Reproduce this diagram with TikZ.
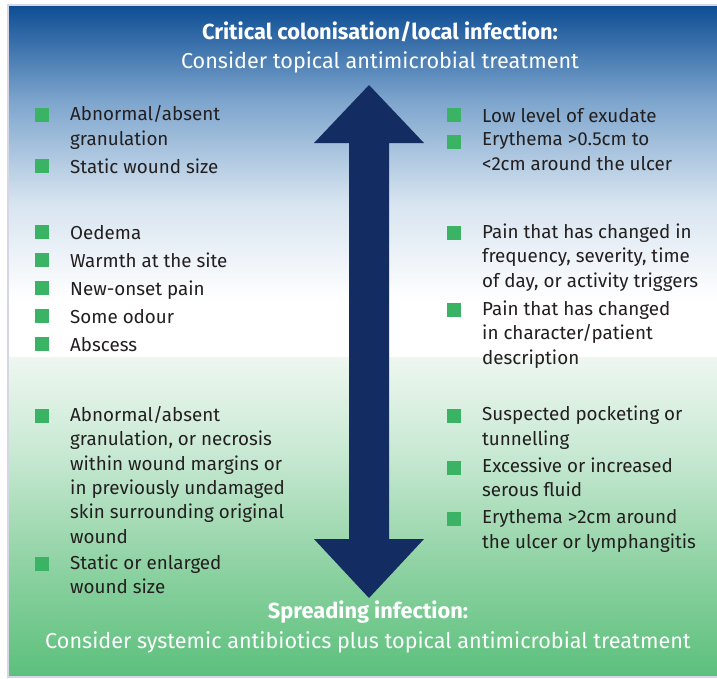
\documentclass[tikz,border=0pt]{standalone}
\usepackage{fontspec}
\setmainfont{Fira Sans}
\usetikzlibrary{calc}

\definecolor{deepblue}{RGB}{14,78,148}
\definecolor{midblue}{RGB}{125,165,205}
\definecolor{paleblue}{RGB}{215,228,240}
\definecolor{palegreen}{RGB}{238,247,240}
\definecolor{softgreen}{RGB}{200,233,211}
\definecolor{midgreen}{RGB}{145,211,165}
\definecolor{deepgreen}{RGB}{92,192,124}
\definecolor{navy}{RGB}{19,44,98}
\definecolor{tick}{RGB}{58,180,100}
\definecolor{frame}{RGB}{214,214,230}
\definecolor{ink}{RGB}{35,31,32}

% upper half fades from blue to white, lower half from white to green
\pgfdeclareverticalshading{upperfade}{100bp}{color(0bp)=(white); color(25bp)=(white); color(33bp)=(white); color(47bp)=(paleblue); color(61.5bp)=(midblue); color(75bp)=(deepblue); color(100bp)=(deepblue)}
\pgfdeclareverticalshading{lowerfade}{100bp}{color(0bp)=(deepgreen); color(25bp)=(deepgreen); color(43bp)=(midgreen); color(60bp)=(softgreen); color(75bp)=(palegreen); color(100bp)=(palegreen)}

\tikzset{
	crit/.style={inner sep=0pt, anchor=north west, align=left, text=ink,
		font=\fontsize{18.8}{24.4}\selectfont, execute at begin node=\strut},
	sq/.style={fill=tick, minimum size=14pt, inner sep=0pt},
	head/.style={text=white, anchor=base, font=\fontsize{21.6}{26}\selectfont}
}
% a criterion with its green square in front of the first line
\newcommand\criterion[3]{
	\node[crit] (#1) at (#2) {#3};
	\node[sq] (#1sq) at ($(#1.north west)+(-28.5,10)$) {};
}

\begin{document}
\begin{tikzpicture}[x=1pt,y=-1pt]
	\useasboundingbox (0,0) rectangle (717,678);
	\fill[white] (0,0) rectangle (717,678);
	\shade[shading=upperfade] (9,6) rectangle (717,357);
	\shade[shading=lowerfade] (9,357) rectangle (717,676);
	\draw[frame, line width=2pt] (7.5,4.5) rectangle (722,677);

	% the two-way arrow
	\fill[navy] (369,85) -- (424,143) -- (389,143) -- (389,539) -- (424,539) -- (369,598)
		-- (314,539) -- (349,539) -- (349,143) -- (314,143) -- cycle;

	\node[head, font=\fontsize{21.8}{26}\selectfont\bfseries] (crit) at (380,39) {Critical colonisation/local infection:};
	\node[head] (critsub) at (380,68) {Consider topical antimicrobial treatment};
	\node[head, font=\fontsize{21.8}{26}\selectfont\bfseries] (spread) at (368,618) {Spreading infection:};
	\node[head] (spreadsub) at (368,648) {Consider systemic antibiotics plus topical antimicrobial treatment};

	% left column
	\criterion{l1}{70,105.4}{Abnormal/absent\\granulation}
	\criterion{l2}{70,155.9}{Static wound size}
	\criterion{l3}{70,222.4}{Oedema}
	\criterion{l4}{70,250.4}{Warmth at the site}
	\criterion{l5}{70,278.4}{New-onset pain}
	\criterion{l6}{70,306.4}{Some odour}
	\criterion{l7}{70,334.4}{Abscess}
	\criterion{l8}{70,405.9}{Abnormal/absent\\granulation, or necrosis\\within wound margins or\\in previously undamaged\\skin surrounding original\\wound}
	\criterion{l9}{70,554.4}{Static or enlarged\\wound size}

	% right column
	\criterion{r1}{482,105.1}{Low level of exudate}
	\criterion{r2}{482,131.7}{Erythema >0.5cm to\\<2cm around the ulcer}
	\criterion{r3}{482,223.4}{Pain that has changed in\\frequency, severity, time\\of day, or activity triggers}
	\criterion{r4}{482,300.4}{Pain that has changed\\in character/patient\\description}
	\criterion{r5}{482,406.1}{Suspected pocketing or\\tunnelling}
	\criterion{r6}{482,457.7}{Excessive or increased\\serous fluid}
	\criterion{r7}{482,509.4}{Erythema >2cm around\\the ulcer or lymphangitis}
\end{tikzpicture}
\end{document}
